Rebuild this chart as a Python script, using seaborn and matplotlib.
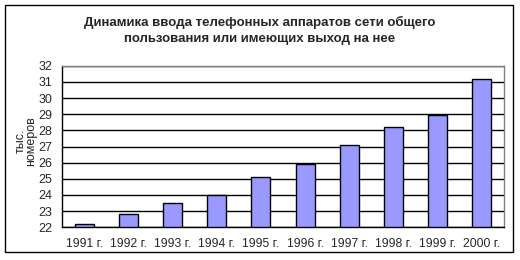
import matplotlib
matplotlib.use("Agg")
import matplotlib.pyplot as plt
import seaborn as sns
import pandas as pd
from matplotlib.patches import Rectangle

years = ["1991 г.", "1992 г.", "1993 г.", "1994 г.", "1995 г.",
         "1996 г.", "1997 г.", "1998 г.", "1999 г.", "2000 г."]
values = [22.2, 22.8, 23.5, 24.0, 25.1, 25.9, 27.1, 28.2, 28.95, 31.2]
yticks = list(range(22, 33))
title = "Динамика ввода телефонных аппаратов сети общего\nпользования или имеющих выход на нее"
ylabel = "тыс.\nномеров"

df = pd.DataFrame({"year": years, "value": values})

sns.set_style("white")
plt.rcParams['font.family'] = ['Liberation Sans', 'DejaVu Sans']

W, H = 520, 260
fig = plt.figure(figsize=(W / 100, H / 100), dpi=100)
ax = fig.add_axes([62 / W, 1 - 227.3 / H, (504 - 62) / W, (227.3 - 65.7) / H])

sns.barplot(data=df, x="year", y="value", ax=ax, color="#9999FF",
            saturation=1, width=0.43, edgecolor="black", linewidth=1.0,
            zorder=3)
# bars start at axis bottom
for p, v in zip(ax.patches, values):
    p.set_y(22)
    p.set_height(v - 22)

ax.set_ylim(22, 32)
ax.set_xlim(-0.5, len(years) - 0.5)
ax.set_yticks(yticks)
ax.set_yticklabels([str(t) for t in yticks], fontsize=9)
ax.set_xticks(range(len(years)))
ax.set_xticklabels(years, fontsize=8.7)
ax.yaxis.grid(True, color="black", linewidth=1.0, zorder=0)
ax.set_axisbelow(True)
ax.set_xlabel("")
ax.set_ylabel("")

# category boundary ticks on x axis
ax.tick_params(axis="x", length=0, pad=8)
ax.set_xticks([i - 0.5 for i in range(len(years) + 1)], minor=True)
ax.tick_params(axis="x", which="minor", length=4, width=1, color="black", direction="out")
ax.tick_params(axis="y", length=4, width=1, color="black", direction="out", pad=3)

for s in ["left", "bottom"]:
    ax.spines[s].set_color("black")
    ax.spines[s].set_linewidth(1.0)
for s in ["top", "right"]:
    ax.spines[s].set_color("#808080")
    ax.spines[s].set_linewidth(1.0)

fig.text(260 / W, 1 - 30.5 / H, title, ha="center", va="center",
         fontsize=9.5, fontweight="bold", linespacing=1.45)
fig.text(26 / W, 1 - 141 / H, ylabel, ha="center", va="center",
         fontsize=9, rotation=90, linespacing=0.9)

fig.patches.append(Rectangle((5 / W, 1 - 252 / H), (513 - 5) / W, (252 - 5) / H,
                             transform=fig.transFigure, fill=False,
                             edgecolor="black", linewidth=1.0))

fig.savefig("out.png", dpi=100)
